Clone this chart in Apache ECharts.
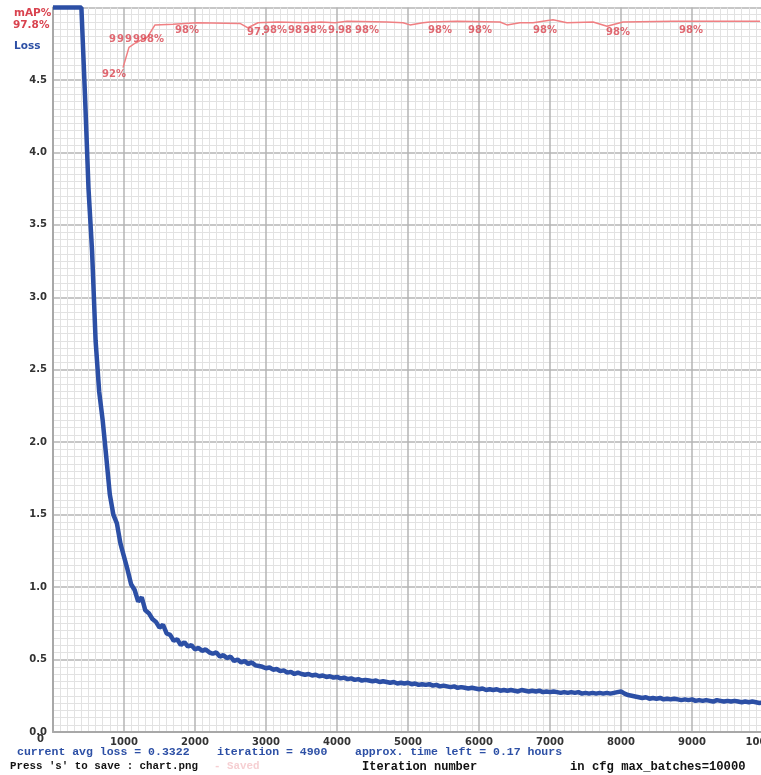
<!DOCTYPE html>
<html>
<head>
<meta charset="utf-8">
<script src="https://cdn.jsdelivr.net/npm/echarts@6/dist/echarts.min.js"></script>
<style>
  html, body { margin: 0; padding: 0; background: #fff; }
  #chart { width: 761px; height: 775px; }
</style>
</head>
<body>
<div id="chart"></div>
<script>
// loss sampled every 50 iterations (values above 5 sit on the chart top)
const lossStep = 50;
const lossValues = [
  5.00, 5.00, 5.00, 5.00, 5.00, 5.00, 5.00, 5.00, 5.00, 4.40,
  3.75, 3.32, 2.70, 2.35, 2.15, 1.90, 1.64, 1.50, 1.44, 1.30,
  1.21, 1.12, 1.02, 0.98, 0.90, 0.93, 0.84, 0.82, 0.78, 0.76,
  0.72, 0.74, 0.68, 0.67, 0.63, 0.64, 0.60, 0.62, 0.59, 0.60,
  0.57, 0.58, 0.56, 0.57, 0.55, 0.54, 0.55, 0.52, 0.53, 0.51,
  0.52, 0.49, 0.50, 0.48, 0.49, 0.47, 0.48, 0.46, 0.455, 0.45,
  0.44, 0.445, 0.43, 0.435, 0.42, 0.425, 0.41, 0.415, 0.40, 0.41,
  0.40, 0.395, 0.40, 0.39, 0.395, 0.385, 0.39, 0.38, 0.385, 0.375,
  0.38, 0.37, 0.375, 0.365, 0.37, 0.36, 0.365, 0.355, 0.36, 0.355,
  0.35, 0.355, 0.345, 0.35, 0.345, 0.34, 0.345, 0.335, 0.34, 0.335,
  0.34, 0.33, 0.335, 0.325, 0.33, 0.325, 0.33, 0.32, 0.325, 0.315,
  0.32, 0.315, 0.31, 0.315, 0.305, 0.31, 0.305, 0.30, 0.305, 0.30,
  0.295, 0.30, 0.29, 0.295, 0.29, 0.295, 0.285, 0.29, 0.285, 0.29,
  0.285, 0.28, 0.29, 0.285, 0.28, 0.285, 0.28, 0.285, 0.275, 0.28,
  0.275, 0.28, 0.275, 0.27, 0.275, 0.27, 0.275, 0.27, 0.275, 0.265,
  0.27, 0.265, 0.27, 0.265, 0.27, 0.265, 0.27, 0.265, 0.27, 0.275,
  0.28, 0.265, 0.255, 0.25, 0.245, 0.24, 0.235, 0.24, 0.23, 0.235,
  0.23, 0.235, 0.225, 0.23, 0.225, 0.23, 0.225, 0.22, 0.225, 0.22,
  0.225, 0.215, 0.22, 0.215, 0.22, 0.215, 0.21, 0.22, 0.215, 0.21,
  0.215, 0.21, 0.215, 0.21, 0.205, 0.21, 0.205, 0.21, 0.205, 0.20,
  0.205
];

// mAP curve (percent)
const mapIters = [986, 1070, 1160, 1240, 1330, 1437, 1690, 2028, 2634, 2746,
  2887, 3169, 3549, 3775, 3972, 4141, 4704, 4930, 5028, 5211,
  5310, 5690, 6296, 6394, 6577, 6761, 7042, 7239, 7606, 7803,
  8028, 8732, 9676, 9958];
const mapValues = [91.7, 94.5, 95.1, 95.5, 95.9, 97.6, 97.7, 97.9, 97.8, 97.2,
  97.9, 98.0, 97.9, 98.0, 97.9, 98.1, 98.0, 97.9, 97.6, 97.9,
  98.0, 98.1, 98.0, 97.6, 97.9, 97.9, 98.3, 97.9, 98.0, 97.4,
  98.0, 98.1, 98.1, 98.1];

// mAP labels: left edge iteration, vertical centre (percent), visible text
const mapLabelIters = [690, 789, 901, 1014, 1127, 1225, 1718, 2732, 2958, 3310,
  3521, 3873, 4014, 4254, 5282, 5845, 6761, 7789, 8817];
const mapLabelValues = [90.7, 95.6, 95.6, 95.6, 95.6, 95.6, 96.9, 96.5, 96.9, 96.9,
  96.9, 96.9, 96.9, 96.9, 96.9, 96.9, 96.9, 96.5, 96.9];
const mapLabelTexts = ['92%', '9', '9', '9', '9', '98%', '98%', '97.', '98%', '98',
  '98%', '9.', '98', '98%', '98%', '98%', '98%', '98%', '98%'];

const BLUE = '#2c4fa5';
const RED = '#d9434f';
const MONO = '"Liberation Mono", "DejaVu Sans Mono", monospace';

const lossData = lossValues.map((v, i) => [i * lossStep, v]);
const mapData = mapIters.map((it, i) => [it, mapValues[i]]);
const labelData = mapLabelIters.map((it, i) => [it, mapLabelValues[i], mapLabelTexts[i]]);

function txt(x, y, text, size, color) {
  return {
    type: 'text', left: x, top: y,
    style: { text: text, fill: color, font: 'bold ' + size + 'px ' + MONO }
  };
}

const chart = echarts.init(document.getElementById('chart'));
chart.setOption({
  backgroundColor: '#fff',
  animation: false,
  grid: { left: 53, top: 7.5, width: 710, height: 724.5, outerBoundsMode: 'none', containLabel: false },
  xAxis: {
    type: 'value', min: 0, max: 10000, interval: 1000,
    axisLine: { show: true, lineStyle: { color: '#a8a8a8', width: 2 } },
    axisTick: { show: false },
    axisLabel: { showMinLabel: false, margin: 5, color: '#333', fontSize: 10,
      fontWeight: 'bold', fontFamily: 'DejaVu Sans', formatter: v => String(v) },
    splitLine: { show: true, lineStyle: { color: '#b4b4b4', width: 1.5 } },
    minorTick: { show: false, splitNumber: 10 },
    minorSplitLine: { show: true, lineStyle: { color: '#e2e2e2', width: 1 } }
  },
  yAxis: [{
    type: 'value', min: 0, max: 5, interval: 0.5,
    axisLine: { show: true, lineStyle: { color: '#a8a8a8', width: 2 } },
    axisTick: { show: false },
    axisLabel: { showMaxLabel: false, margin: 6, color: '#333', fontSize: 10,
      fontWeight: 'bold', fontFamily: 'DejaVu Sans', formatter: v => v.toFixed(1) },
    splitLine: { show: true, lineStyle: { color: '#b4b4b4', width: 1.5 } },
    minorTick: { show: false, splitNumber: 10 },
    minorSplitLine: { show: true, lineStyle: { color: '#e2e2e2', width: 1 } }
  }, {
    type: 'value', min: 0, max: 100, show: false
  }],
  series: [{
    name: 'Loss', type: 'line', data: lossData, showSymbol: false,
    lineStyle: { color: BLUE, width: 4.5 }, clip: false, z: 3
  }, {
    name: 'mAP', type: 'line', yAxisIndex: 1, data: mapData, showSymbol: false,
    lineStyle: { color: '#f07f82', width: 1.5 }, z: 4
  }, {
    name: 'mAP labels', type: 'scatter', yAxisIndex: 1, data: labelData,
    symbolSize: 1, itemStyle: { color: 'rgba(0,0,0,0)' }, z: 5,
    label: {
      show: true, position: 'inside', align: 'left', verticalAlign: 'middle',
      formatter: p => p.data[2], color: RED, fontSize: 10, fontWeight: 'bold',
      fontFamily: 'DejaVu Sans'
    }
  }],
  graphic: [
    { type: 'text', left: 14, top: 8, style: { text: 'mAP%', fill: RED, font: 'bold 10.5px "DejaVu Sans"' } },
    { type: 'text', left: 13, top: 20, style: { text: '97.8%', fill: RED, font: 'bold 10.5px "DejaVu Sans"' } },
    { type: 'text', left: 14, top: 41, style: { text: 'Loss', fill: BLUE, font: 'bold 10.5px "DejaVu Sans"' } },
    { type: 'text', left: 37, top: 734, style: { text: '0', fill: '#333', font: 'bold 10px "DejaVu Sans"' } },
    txt(17, 746, 'current avg loss = 0.3322', 11.5, BLUE),
    txt(217, 746, 'iteration = 4900', 11.5, BLUE),
    txt(355, 746, 'approx. time left = 0.17 hours', 11.5, BLUE),
    txt(10, 761, "Press 's' to save : chart.png", 10.8, '#111'),
    txt(214, 761, '- Saved', 10.8, '#f6cfd2'),
    txt(362, 761, 'Iteration number', 12, '#111'),
    txt(570, 761, 'in cfg max_batches=10000', 12.2, '#111')
  ]
});
</script>
</body>
</html>
